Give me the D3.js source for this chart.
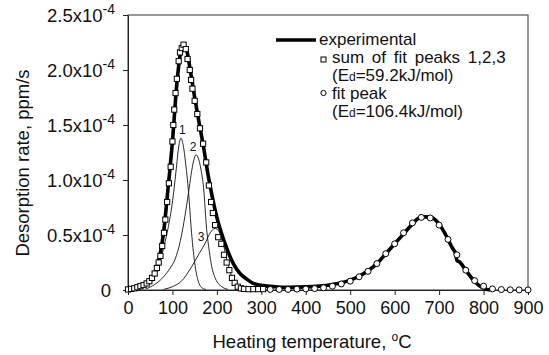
<!DOCTYPE html>
<html>
<head>
<meta charset="utf-8">
<script src="https://cdn.jsdelivr.net/npm/d3@7"></script>
<style>
body { margin: 0; background: #fff; }
text { font-family: "Liberation Sans", Arial, Helvetica, sans-serif; fill: #111; }
</style>
</head>
<body>
<svg id="chart" width="549" height="355"></svg>
<script>
// rates are in units of 1e-4 ppm/s
const xTicks = [0, 100, 200, 300, 400, 500, 600, 700, 800, 900];
const yTicks = [0, 0.5, 1.0, 1.5, 2.0, 2.5];
const yTickLabels = ["0", "0.5x10", "1.0x10", "1.5x10", "2.0x10", "2.5x10"];
const yTickExp = "-4";

// thick line
const experimental = [[0,0.01],[20,0.025],[40,0.055],[50,0.09],[60,0.15],[70,0.28],[80,0.52],[90,0.92],
	[100,1.35],[110,1.88],[118,2.15],[125,2.22],[132,2.18],[140,2.0],[150,1.75],[160,1.52],[170,1.3],
	[180,1.05],[190,0.84],[200,0.66],[210,0.52],[222,0.38],[237,0.24],[252,0.15],[267,0.1],[282,0.06],
	[304,0.04],[330,0.03],[360,0.025],[400,0.028],[430,0.035],[460,0.05],[480,0.065],[500,0.09],
	[520,0.125],[540,0.175],[560,0.24],[580,0.33],[600,0.42],[620,0.51],[640,0.6],[655,0.655],
	[670,0.665],[685,0.655],[700,0.6],[715,0.5],[730,0.38],[737,0.33],[740,0.27],[746,0.255],
	[760,0.18],[775,0.1],[790,0.04],[805,0.008],[815,0]];

// squares: sum of fit peaks 1,2,3
const sumPeaks = [[0,0.005],[7,0.01],[14,0.015],[21,0.025],[28,0.035],[35,0.045],[42,0.06],[48,0.08],
	[54,0.11],[60,0.15],[65,0.2],[69,0.25],[73,0.31],[77,0.4],[81,0.52],[84,0.64],[88,0.8],[92,0.97],
	[96,1.12],[100,1.35],[102,1.5],[104,1.64],[107,1.79],[110,1.92],[114,2.08],[117,2.16],[121,2.2],
	[125,2.23],[130,2.19],[134,2.1],[139,2.0],[142,1.91],[145,1.83],[150,1.72],[156,1.6],[162,1.47],
	[169,1.33],[176,1.16],[182,0.95],[187,0.8],[191,0.7],[196,0.59],[203,0.48],[210,0.42],[216,0.32],
	[222,0.25],[228,0.18],[234,0.11],[240,0.065],[247,0.03],[254,0.015],[261,0.01],[271,0.008],
	[282,0.008],[293,0.008],[304,0.008]];

// circles: fit peak of the high temperature state
const fitPeak = [[320,0.005],[340,0.005],[360,0.005],[380,0.008],[400,0.01],[420,0.013],[440,0.02],
	[460,0.035],[480,0.055],[500,0.08],[520,0.12],[540,0.17],[560,0.24],[580,0.33],[600,0.42],
	[620,0.52],[640,0.61],[660,0.66],[680,0.655],[700,0.59],[720,0.46],[740,0.32],[760,0.18],
	[780,0.085],[800,0.035],[820,0.01],[840,0.004],[860,0.002],[880,0.001],[900,0.001]];

// thin lines: fit peaks 1, 2, 3
const peak1 = [[10,0.005],[20,0.01],[30,0.02],[40,0.035],[50,0.06],[60,0.12],[70,0.23],[80,0.38],
	[90,0.56],[100,0.8],[108,1.08],[114,1.3],[119,1.38],[124,1.32],[130,1.14],[136,0.9],[143,0.52],
	[151,0.22],[158,0.08],[165,0.025],[175,0.005]];
const peak2 = [[40,0.01],[60,0.05],[80,0.12],[95,0.2],[106,0.28],[118,0.45],[128,0.67],[136,0.88],
	[142,1.05],[148,1.18],[153,1.23],[158,1.2],[164,1.1],[170,0.93],[177,0.55],[183,0.35],[188,0.22],
	[195,0.12],[203,0.06],[211,0.03],[225,0.005]];
const peak3 = [[80,0.005],[100,0.03],[120,0.08],[143,0.21],[160,0.33],[173,0.42],[185,0.52],[196,0.56],
	[205,0.53],[213,0.44],[221,0.3],[230,0.16],[238,0.07],[246,0.025],[255,0.005]];
const peakNames = ["1", "2", "3"];

const svg = d3.select("#chart");

let x = d3.scaleLinear().domain([0, 900]).range([128, 528]);
let y = d3.scaleLinear().domain([0, 2.5]).range([290, 15]);

// frame
svg.append("rect")
	.attr("x", x(0)).attr("y", y(2.5))
	.attr("width", x(900) - x(0)).attr("height", y(0) - y(2.5))
	.attr("fill", "none").attr("stroke", "#333").attr("stroke-width", 1);

// x axis
let xAxis = svg.append("g")
	.attr("transform", "translate(0," + y(0) + ")")
	.call(d3.axisBottom(x).tickValues(xTicks).tickSize(5).tickSizeOuter(0).tickPadding(6));
xAxis.select(".domain").attr("stroke", "#222");
xAxis.selectAll("line").attr("stroke", "#222");
xAxis.selectAll("text").attr("font-size", 18).attr("fill", "#111")
	.attr("font-family", "'Liberation Sans', Arial, sans-serif");

// y axis
let yAxis = svg.append("g")
	.attr("transform", "translate(" + x(0) + ",0)")
	.call(d3.axisLeft(y).tickValues(yTicks).tickSize(5).tickSizeOuter(0).tickFormat(""));
yAxis.select(".domain").attr("stroke", "#222");
yAxis.selectAll("line").attr("stroke", "#222");

let yLab = svg.append("g").selectAll("text")
	.data(yTicks)
	.enter().append("text")
	.attr("x", (d) => d > 0 ? 115 : 111)
	.attr("y", (d) => y(d) + 7)
	.attr("text-anchor", "end")
	.attr("font-size", 18.5);
yLab.append("tspan").text((d, i) => yTickLabels[i]);
yLab.filter((d) => d > 0).append("tspan")
	.attr("font-size", 14).attr("dy", -8)
	.text(yTickExp);

// axis titles
let xTitle = svg.append("text")
	.attr("x", 312).attr("y", 348)
	.attr("text-anchor", "middle").attr("font-size", 18.5);
xTitle.append("tspan").text("Heating temperature, ");
xTitle.append("tspan").attr("font-size", 12).attr("dy", -7).text("o");
xTitle.append("tspan").attr("dy", 7).text("C");

svg.append("text")
	.attr("transform", "translate(29,163) rotate(-90)")
	.attr("text-anchor", "middle").attr("font-size", 18.5)
	.text("Desorption rate, ppm/s");

// lines
let line = d3.line()
	.x((d) => x(d[0]))
	.y((d) => y(d[1]))
	.curve(d3.curveMonotoneX);

let peaks = [peak1, peak2, peak3];
svg.append("g").selectAll("path")
	.data(peaks)
	.enter().append("path")
	.attr("d", line)
	.attr("fill", "none")
	.attr("stroke", "#111")
	.attr("stroke-width", 0.9);

// peak numbers, nudged off each maximum
let nudge = [[1.5, -8], [-3, -8], [-14, 9]];
svg.append("g").selectAll("text")
	.data(peaks)
	.enter().append("text")
	.attr("x", (p, i) => x(d3.greatest(p, (d) => d[1])[0]) + nudge[i][0])
	.attr("y", (p, i) => y(d3.greatest(p, (d) => d[1])[1]) + nudge[i][1] + 4)
	.attr("text-anchor", "middle")
	.attr("font-size", 12)
	.text((p, i) => peakNames[i]);

svg.append("path")
	.datum(experimental)
	.attr("d", line)
	.attr("fill", "none")
	.attr("stroke", "#000")
	.attr("stroke-width", 3.6)
	.attr("stroke-linejoin", "round");

svg.append("g").selectAll("rect")
	.data(sumPeaks)
	.enter().append("rect")
	.attr("x", (d) => x(d[0]) - 2.6)
	.attr("y", (d) => y(d[1]) - 2.6)
	.attr("width", 5.2).attr("height", 5.2)
	.attr("fill", "#fff").attr("stroke", "#000").attr("stroke-width", 1);

svg.append("g").selectAll("circle")
	.data(fitPeak)
	.enter().append("circle")
	.attr("cx", (d) => x(d[0]))
	.attr("cy", (d) => y(d[1]))
	.attr("r", 3)
	.attr("fill", "#fff").attr("stroke", "#000").attr("stroke-width", 1);

// legend
let lg = svg.append("g").attr("font-size", 17);
lg.append("line").attr("x1", 276).attr("x2", 316).attr("y1", 40).attr("y2", 40)
	.attr("stroke", "#000").attr("stroke-width", 3.6);
lg.append("text").attr("x", 319).attr("y", 45).text("experimental");

lg.append("rect").attr("x", 321).attr("y", 57).attr("width", 5).attr("height", 5)
	.attr("fill", "#fff").attr("stroke", "#000");
lg.append("text").attr("x", 332).attr("y", 63).attr("word-spacing", 3).text("sum of fit peaks 1,2,3");

let e1 = lg.append("text").attr("x", 332).attr("y", 81);
e1.append("tspan").text("(E");
e1.append("tspan").attr("font-size", 12).text("d");
e1.append("tspan").text("=59.2kJ/mol)");

lg.append("circle").attr("cx", 323.5).attr("cy", 93).attr("r", 2.6)
	.attr("fill", "#fff").attr("stroke", "#000");
lg.append("text").attr("x", 332).attr("y", 99).text("fit peak");

let e2 = lg.append("text").attr("x", 332).attr("y", 117);
e2.append("tspan").text("(E");
e2.append("tspan").attr("font-size", 12).text("d");
e2.append("tspan").text("=106.4kJ/mol)");
</script>
</body>
</html>
